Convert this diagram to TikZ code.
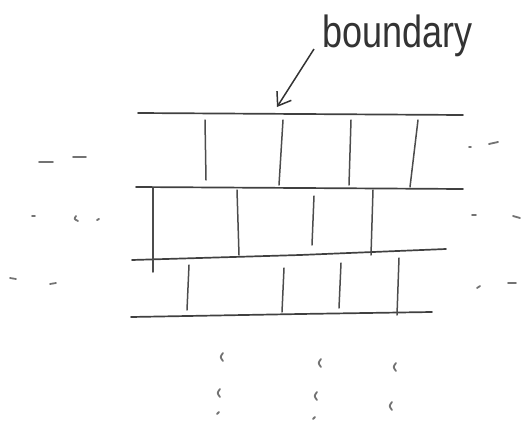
\documentclass[tikz,border=0pt]{standalone}
\usepackage{fontspec}
\setmainfont{Liberation Sans}
\usetikzlibrary{arrows.meta}

\begin{document}
\begin{tikzpicture}[
  x=1pt, y=-1pt,
  pencil/.style={draw=black!75, line width=1.7pt, line cap=round},
  brick/.style={draw=black!70, line width=1.5pt, line cap=round},
  faint/.style={draw=black!55, line width=1.8pt, line cap=round},
  pointer/.style={draw=black!80, line width=1.5pt, -{Straight Barb[length=12pt,width=17pt]}},
  note/.style={font=\fontsize{36}{40}\selectfont, text=black!80, inner sep=0pt}
]
\useasboundingbox (0,0) rectangle (531,434);

% courses (horizontal)
\draw[pencil] (138,113) -- (300,114) -- (463,115);
\draw[pencil] (136,187) -- (300,188) -- (463,189);
\draw[pencil] (132,260) -- (300,255) -- (446,249);
\draw[pencil] (131,317) -- (300,314) -- (432,312);

% joints, top course
\foreach \xa/\ya/\xb/\yb in {205/120/206/180, 283/120/279/185, 351/120/349/185, 418/120/410/187}
  \draw[brick] (\xa,\ya) -- (\xb,\yb);
% joints, middle course
\foreach \xa/\ya/\xb/\yb in {153/188/153/272, 237/190/239/255, 314/196/312/245, 373/190/371/255}
  \draw[brick] (\xa,\ya) -- (\xb,\yb);
% joints, bottom course
\foreach \xa/\ya/\xb/\yb in {189/265/187/310, 284/268/282/312, 341/263/339/308, 399/258/397/315}
  \draw[brick] (\xa,\ya) -- (\xb,\yb);

% dashes on the left and right
\foreach \xa/\ya/\xb/\yb in {39/162/53/162, 73/157/86/157, 32/216/35/216, 97/220/99/219,
                             10/278/16/279, 50/284/56/283,
                             469/147/471/147, 489/144/498/142, 472/215/476/215, 513/216/520/218,
                             477/288/480/286, 508/283/516/283}
  \draw[faint] (\xa,\ya) -- (\xb,\yb);
\draw[faint] (76,216) .. controls (74,219) .. (78,221);

% marks below
\foreach \x/\y in {222/357, 219/393, 320/363, 316/396, 395/367, 391/406}
  \draw[faint] (\x+1,\y-4) .. controls (\x-2,\y) .. (\x+1,\y+4);
\foreach \x/\y in {218/413, 314/418}
  \draw[faint] (\x-1,\y+1) -- (\x+1,\y-1);

% label
\node[note, anchor=base west] (label) at (322,47) {\scalebox{1}[1.25]{boundary}};
\coordinate (tail) at (314,49);
\coordinate (tip) at (277,107);
\draw[pointer] (tail) -- (tip);
\end{tikzpicture}
\end{document}
